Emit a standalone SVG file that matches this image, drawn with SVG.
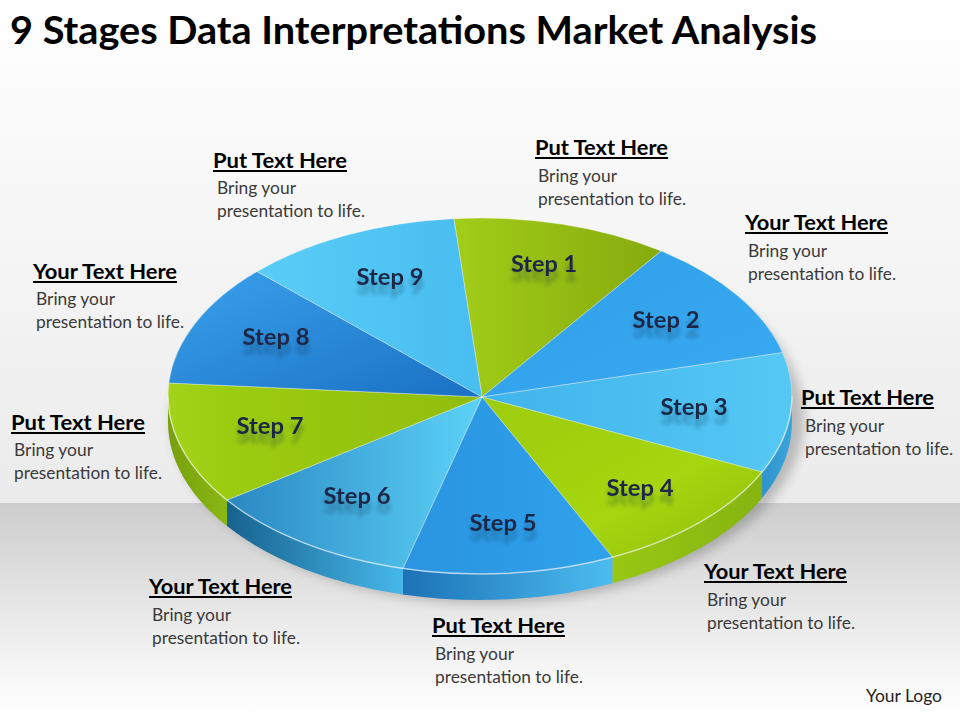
<svg xmlns="http://www.w3.org/2000/svg" width="960" height="720" viewBox="0 0 960 720">
<defs>
<linearGradient id="bgTop" x1="0" y1="0" x2="0" y2="1"><stop offset="0" stop-color="#ffffff"/><stop offset="1" stop-color="#ebebeb"/></linearGradient>
<linearGradient id="bgBot" x1="0" y1="0" x2="0" y2="1"><stop offset="0" stop-color="#cdcdcd"/><stop offset="0.85" stop-color="#fafafa"/><stop offset="1" stop-color="#ffffff"/></linearGradient>
<linearGradient id="g1" x1="0" y1="0" x2="1" y2="0"><stop offset="0" stop-color="#a2cd18"/><stop offset="1" stop-color="#86aa0e"/></linearGradient>
<linearGradient id="g4" x1="0" y1="0" x2="1" y2="1"><stop offset="0" stop-color="#9ccc0c"/><stop offset="0.6" stop-color="#a6d60e"/><stop offset="1" stop-color="#8cba0e"/></linearGradient>
<linearGradient id="g7" x1="1" y1="0" x2="0" y2="0"><stop offset="0" stop-color="#90bd0c"/><stop offset="0.8" stop-color="#9ccc10"/><stop offset="1" stop-color="#a4d41a"/></linearGradient>
<linearGradient id="b2" x1="0" y1="0" x2="1" y2="1"><stop offset="0" stop-color="#2e9ee8"/><stop offset="1" stop-color="#3aabf2"/></linearGradient>
<linearGradient id="b3" x1="0" y1="0" x2="1" y2="0"><stop offset="0" stop-color="#40b4ec"/><stop offset="1" stop-color="#55c8f4"/></linearGradient>
<linearGradient id="b5" x1="0" y1="0" x2="1" y2="0"><stop offset="0" stop-color="#2a94e0"/><stop offset="1" stop-color="#30a2ec"/></linearGradient>
<linearGradient id="b6" x1="0" y1="0" x2="1" y2="0"><stop offset="0" stop-color="#2a88c2"/><stop offset="1" stop-color="#5cd2f8"/></linearGradient>
<linearGradient id="b8" x1="1" y1="1" x2="0" y2="0"><stop offset="0" stop-color="#1a70c4"/><stop offset="1" stop-color="#3aa2ec"/></linearGradient>
<linearGradient id="b9" x1="0" y1="0" x2="1" y2="0"><stop offset="0" stop-color="#5acdf6"/><stop offset="1" stop-color="#48bdf0"/></linearGradient>
<linearGradient id="s3" x1="0" y1="0" x2="1" y2="0"><stop offset="0" stop-color="#2f93cc"/><stop offset="1" stop-color="#3ba6dc"/></linearGradient>
<linearGradient id="s4" x1="0" y1="0" x2="1" y2="0"><stop offset="0" stop-color="#98c814"/><stop offset="1" stop-color="#86b410"/></linearGradient>
<linearGradient id="s5" x1="0" y1="0" x2="1" y2="0"><stop offset="0" stop-color="#1c72b6"/><stop offset="1" stop-color="#4cbcf0"/></linearGradient>
<linearGradient id="s6" x1="0" y1="0" x2="1" y2="0"><stop offset="0" stop-color="#17628f"/><stop offset="1" stop-color="#46b8ea"/></linearGradient>
<linearGradient id="s7" x1="0" y1="0" x2="1" y2="0"><stop offset="0" stop-color="#76a00e"/><stop offset="1" stop-color="#8ab812"/></linearGradient>
<filter id="shadow" x="-20%" y="-20%" width="140%" height="140%"><feGaussianBlur stdDeviation="6"/></filter>
<filter id="refl" x="-20%" y="-30%" width="140%" height="190%">
<feOffset in="SourceGraphic" dy="9" result="o"/>
<feGaussianBlur in="o" stdDeviation="2" result="b"/>
<feColorMatrix in="b" type="matrix" values="1 0 0 0 0  0 1 0 0 0  0 0 1 0 0  0 0 0 0.35 0" result="r"/>
<feMerge><feMergeNode in="r"/><feMergeNode in="SourceGraphic"/></feMerge>
</filter>
<style>
.title{font-family:Lato,"Liberation Sans",sans-serif;font-weight:bold;font-size:39px;fill:#000}
.head{font-family:Lato,"Liberation Sans",sans-serif;font-weight:bold;font-size:21px;fill:#000}
.body{font-family:Lato,"Liberation Sans",sans-serif;font-size:17px;fill:#3a3a3a}
.step{font-family:Lato,"Liberation Sans",sans-serif;font-weight:bold;font-size:23px;fill:#1b2846;text-anchor:middle}
.ul{stroke:#000;stroke-width:2}
.sep{stroke:#ffffff;stroke-opacity:0.35;stroke-width:1;stroke-linejoin:round}
</style>
</defs>

<rect x="0" y="0" width="960" height="503" fill="url(#bgTop)"/>
<rect x="0" y="503" width="960" height="217" fill="url(#bgBot)"/>

<text class="title" x="10" y="44" textLength="807" lengthAdjust="spacingAndGlyphs">9 Stages Data Interpretations Market Analysis</text>

<ellipse cx="488" cy="418" rx="316" ry="185" fill="#000" opacity="0.22" filter="url(#shadow)"/>

<g id="sides">
<path d="M792,396 A312,178 0 0 1 762.07,472.07 L762.07,498.07 A312,178 0 0 0 792,422 Z" fill="url(#s3)"/>
<path d="M762.07,472.07 A312,178 0 0 1 612.45,557.16 L612.45,583.16 A312,178 0 0 0 762.07,498.07 Z" fill="url(#s4)"/>
<path d="M612.45,557.16 A312,178 0 0 1 402.94,568.49 L402.94,594.49 A312,178 0 0 0 612.45,583.16 Z" fill="url(#s5)"/>
<path d="M402.94,568.49 A312,178 0 0 1 226.95,500.12 L226.95,526.12 A312,178 0 0 0 402.94,594.49 Z" fill="url(#s6)"/>
<path d="M226.95,500.12 A312,178 0 0 1 168,396 L168,422 A312,178 0 0 0 226.95,526.12 Z" fill="url(#s7)"/>
</g>

<g id="step1"><path class="sep" d="M482,397 L453.89,218.63 A312,178 0 0 1 661.18,251.09 Z" fill="url(#g1)"/><text class="step" x="544" y="272" textLength="66" lengthAdjust="spacingAndGlyphs" filter="url(#refl)">Step 1</text></g>
<g id="step2"><path class="sep" d="M482,397 L661.18,251.09 A312,178 0 0 1 782.60,352.64 Z" fill="url(#b2)"/><text class="step" x="666" y="328" textLength="67" lengthAdjust="spacingAndGlyphs" filter="url(#refl)">Step 2</text></g>
<g id="step3"><path class="sep" d="M482,397 L782.60,352.64 A312,178 0 0 1 762.07,472.07 Z" fill="url(#b3)"/><text class="step" x="694" y="415" textLength="67" lengthAdjust="spacingAndGlyphs" filter="url(#refl)">Step 3</text></g>
<g id="step4"><path class="sep" d="M482,397 L762.07,472.07 A312,178 0 0 1 612.45,557.16 Z" fill="url(#g4)"/><text class="step" x="640" y="496" textLength="67" lengthAdjust="spacingAndGlyphs" filter="url(#refl)">Step 4</text></g>
<g id="step5"><path class="sep" d="M482,397 L612.45,557.16 A312,178 0 0 1 402.94,568.49 Z" fill="url(#b5)"/><text class="step" x="503" y="531" textLength="67" lengthAdjust="spacingAndGlyphs" filter="url(#refl)">Step 5</text></g>
<g id="step6"><path class="sep" d="M482,397 L402.94,568.49 A312,178 0 0 1 226.95,500.12 Z" fill="url(#b6)"/><text class="step" x="357" y="504" textLength="67" lengthAdjust="spacingAndGlyphs" filter="url(#refl)">Step 6</text></g>
<g id="step7"><path class="sep" d="M482,397 L226.95,500.12 A312,178 0 0 1 168.84,382.96 Z" fill="url(#g7)"/><text class="step" x="270" y="434" textLength="67" lengthAdjust="spacingAndGlyphs" filter="url(#refl)">Step 7</text></g>
<g id="step8"><path class="sep" d="M482,397 L168.84,382.96 A312,178 0 0 1 257.09,271.46 Z" fill="url(#b8)"/><text class="step" x="276" y="345" textLength="67" lengthAdjust="spacingAndGlyphs" filter="url(#refl)">Step 8</text></g>
<g id="step9"><path class="sep" d="M482,397 L257.09,271.46 A312,178 0 0 1 453.89,218.63 Z" fill="url(#b9)"/><text class="step" x="390" y="285" textLength="67" lengthAdjust="spacingAndGlyphs" filter="url(#refl)">Step 9</text></g>

<path d="M792,396 A312,178 0 0 1 168,396" fill="none" stroke="#ffffff" stroke-opacity="0.45" stroke-width="1.5"/>

<g id="connectors"></g>

<g id="label1"><text class="head" x="213" y="168" textLength="134" lengthAdjust="spacingAndGlyphs">Put Text Here</text><line class="ul" x1="213" y1="171" x2="347" y2="171"/><text class="body" x="217" y="194" textLength="79" lengthAdjust="spacingAndGlyphs">Bring your</text><text class="body" x="217" y="217" textLength="148" lengthAdjust="spacingAndGlyphs">presentation to life.</text></g>
<g id="label2"><text class="head" x="535" y="155" textLength="133" lengthAdjust="spacingAndGlyphs">Put Text Here</text><line class="ul" x1="535" y1="158" x2="668" y2="158"/><text class="body" x="538" y="182" textLength="79" lengthAdjust="spacingAndGlyphs">Bring your</text><text class="body" x="538" y="205" textLength="148" lengthAdjust="spacingAndGlyphs">presentation to life.</text></g>
<g id="label3"><text class="head" x="745" y="230" textLength="143" lengthAdjust="spacingAndGlyphs">Your Text Here</text><line class="ul" x1="745" y1="233" x2="888" y2="233"/><text class="body" x="748" y="257" textLength="79" lengthAdjust="spacingAndGlyphs">Bring your</text><text class="body" x="748" y="280" textLength="148" lengthAdjust="spacingAndGlyphs">presentation to life.</text></g>
<g id="label4"><text class="head" x="33" y="279" textLength="144" lengthAdjust="spacingAndGlyphs">Your Text Here</text><line class="ul" x1="33" y1="282" x2="177" y2="282"/><text class="body" x="36" y="305" textLength="79" lengthAdjust="spacingAndGlyphs">Bring your</text><text class="body" x="36" y="328" textLength="148" lengthAdjust="spacingAndGlyphs">presentation to life.</text></g>
<g id="label5"><text class="head" x="801" y="405" textLength="133" lengthAdjust="spacingAndGlyphs">Put Text Here</text><line class="ul" x1="801" y1="408" x2="934" y2="408"/><text class="body" x="805" y="432" textLength="79" lengthAdjust="spacingAndGlyphs">Bring your</text><text class="body" x="805" y="455" textLength="148" lengthAdjust="spacingAndGlyphs">presentation to life.</text></g>
<g id="label6"><text class="head" x="11" y="430" textLength="134" lengthAdjust="spacingAndGlyphs">Put Text Here</text><line class="ul" x1="11" y1="433" x2="145" y2="433"/><text class="body" x="14" y="456" textLength="79" lengthAdjust="spacingAndGlyphs">Bring your</text><text class="body" x="14" y="479" textLength="148" lengthAdjust="spacingAndGlyphs">presentation to life.</text></g>
<g id="label7"><text class="head" x="704" y="579" textLength="143" lengthAdjust="spacingAndGlyphs">Your Text Here</text><line class="ul" x1="704" y1="582" x2="847" y2="582"/><text class="body" x="707" y="606" textLength="79" lengthAdjust="spacingAndGlyphs">Bring your</text><text class="body" x="707" y="629" textLength="148" lengthAdjust="spacingAndGlyphs">presentation to life.</text></g>
<g id="label8"><text class="head" x="149" y="594" textLength="143" lengthAdjust="spacingAndGlyphs">Your Text Here</text><line class="ul" x1="149" y1="597" x2="292" y2="597"/><text class="body" x="152" y="621" textLength="79" lengthAdjust="spacingAndGlyphs">Bring your</text><text class="body" x="152" y="644" textLength="148" lengthAdjust="spacingAndGlyphs">presentation to life.</text></g>
<g id="label9"><text class="head" x="432" y="633" textLength="133" lengthAdjust="spacingAndGlyphs">Put Text Here</text><line class="ul" x1="432" y1="636" x2="565" y2="636"/><text class="body" x="435" y="660" textLength="79" lengthAdjust="spacingAndGlyphs">Bring your</text><text class="body" x="435" y="683" textLength="148" lengthAdjust="spacingAndGlyphs">presentation to life.</text></g>

<text id="logo" class="body" x="866" y="702" textLength="76" lengthAdjust="spacingAndGlyphs" style="fill:#222">Your Logo</text>
</svg>
